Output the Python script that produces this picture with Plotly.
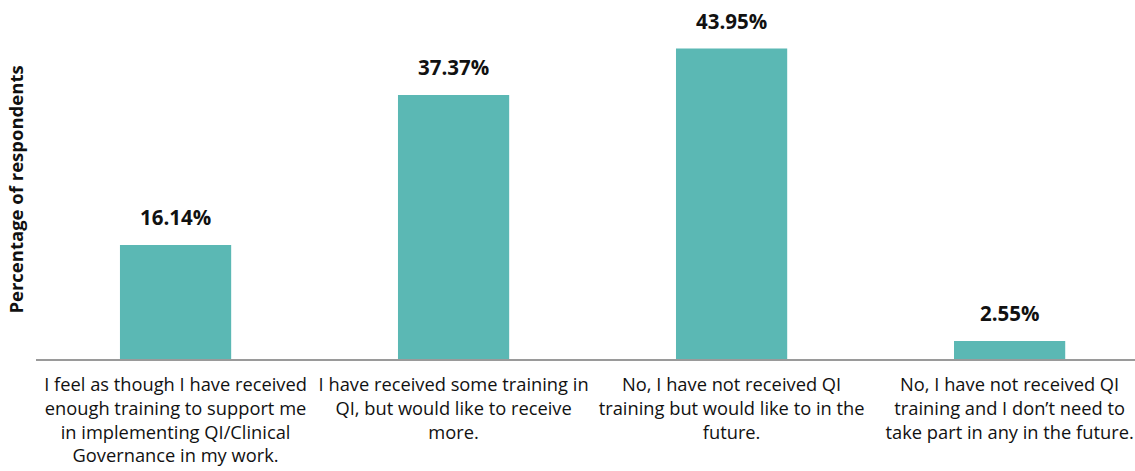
import plotly.graph_objects as go

categories = [
    "I feel as though I have received<br>enough training to support me<br>in implementing QI/Clinical<br>Governance in my work.",
    "I have received some training in<br>QI, but would like to receive<br>more.",
    "No, I have not received QI<br>training but would like to in the<br>future.",
    "No, I have not received QI<br>training and I don\u2019t need to<br>take part in any in the future.",
]
values = [16.14, 37.37, 43.95, 2.55]
labels = ["16.14%", "37.37%", "43.95%", "2.55%"]

fig = go.Figure()
fig.add_trace(go.Bar(
    x=categories, y=values, marker_color="#5BB8B4", width=0.4,
    marker_line_width=0, hoverinfo="skip",
))
for c, v, t in zip(categories, values, labels):
    fig.add_annotation(x=c, y=v, text="<b>" + t + "</b>", showarrow=False,
                       yanchor="bottom", yshift=12,
                       font=dict(family="Open Sans", size=20.5, color="#111111"))

fig.update_layout(
    width=1135, height=471,
    margin=dict(l=36, r=0, t=20, b=112),
    paper_bgcolor="white", plot_bgcolor="white",
    showlegend=False,
    xaxis=dict(type="category", range=[-0.502, 3.451], showgrid=False,
               automargin=False,
               showline=True, linecolor="#9a9a9a", linewidth=2,
               ticks="", tickfont=dict(family="Open Sans", size=18.3, color="#111111"),
               tickangle=0, ticklabelstandoff=8),
    yaxis=dict(range=[0, 48], showgrid=False, showticklabels=False,
               automargin=False,
               zeroline=False, showline=False,
               title=dict(text="<b>Percentage of respondents</b>", standoff=6,
                          font=dict(family="Open Sans", size=18.5, color="#111111"))),
)
fig.write_html("out.html", config={"displayModeBar": False},
               post_script="document.body.style.margin='0';document.body.style.overflow='hidden';")
